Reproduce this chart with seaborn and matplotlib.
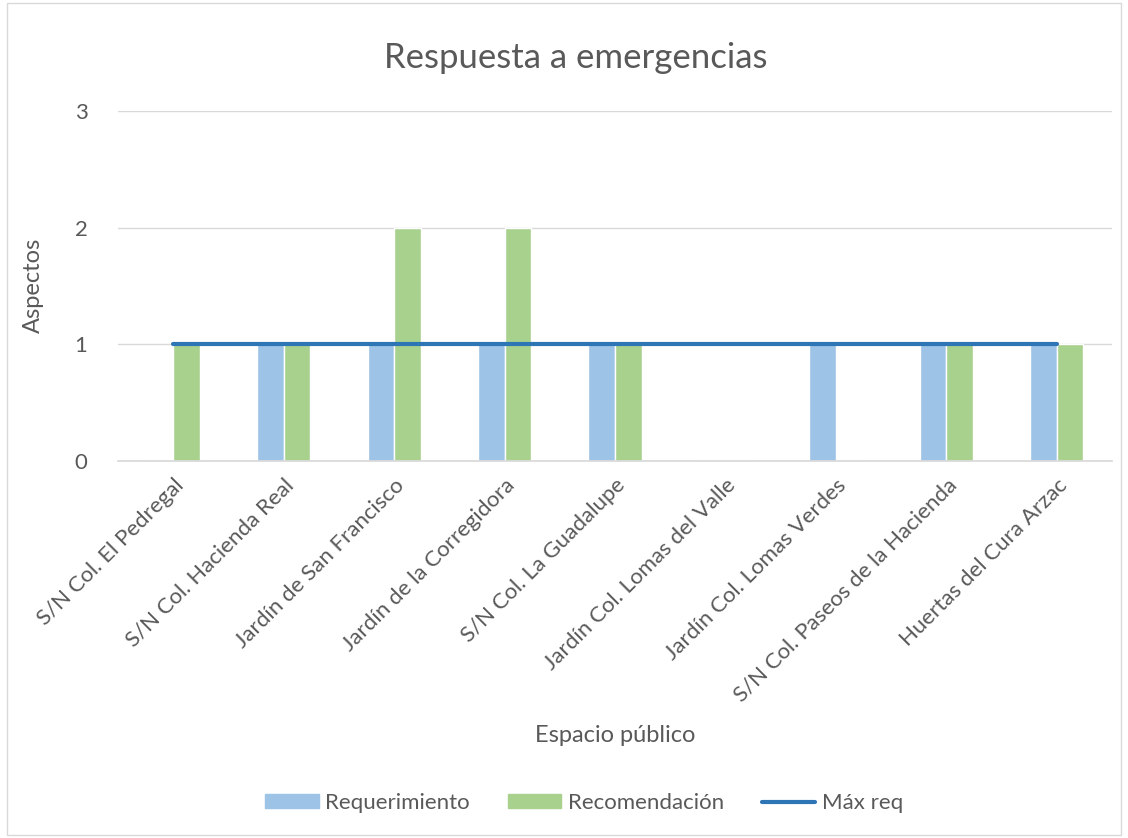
import matplotlib
matplotlib.use("Agg")
import matplotlib.pyplot as plt
import seaborn as sns
import pandas as pd
from matplotlib.patches import Patch
from matplotlib.lines import Line2D

categories = ["S/N Col. El Pedregal", "S/N Col. Hacienda Real", "Jardín de San Francisco",
              "Jardín de la Corregidora", "S/N Col. La Guadalupe", "Jardín Col. Lomas del Valle",
              "Jardín Col. Lomas Verdes", "S/N Col. Paseos de la Hacienda", "Huertas del Cura Arzac"]
requerimiento = [0, 1, 1, 1, 1, 0, 1, 1, 1]
recomendacion = [1, 1, 2, 2, 1, 0, 0, 1, 1]
max_req = [1, 1, 1, 1, 1, 1, 1, 1, 1]
yticks = [0, 1, 2, 3]

sns.set_theme(style="white")
plt.rcParams['font.family'] = ['Lato', 'DejaVu Sans']

df = pd.DataFrame({
    "cat": categories * 2,
    "val": requerimiento + recomendacion,
    "serie": ["Requerimiento"] * 9 + ["Recomendación"] * 9,
})

fig = plt.figure(figsize=(11.28, 8.38), dpi=100)
ax = fig.add_axes([118/1128, 1-461/838, (1112-118)/1128, (461-111)/838])
pal = {"Requerimiento": "#9DC3E6", "Recomendación": "#A9D18E"}
sns.barplot(data=df, x="cat", y="val", hue="serie", palette=pal, width=0.48,
            ax=ax, legend=False, saturation=1)
ax.plot(range(len(categories)), max_req, color="#2E75B6", lw=3, zorder=5)

ax.set_ylim(0, 3)
ax.set_xlim(-0.5, len(categories)-0.5)
ax.set_yticks(yticks)
ax.yaxis.grid(True, color="#D9D9D9", lw=1)
ax.set_axisbelow(True)
for s in ["top", "right", "left"]:
    ax.spines[s].set_visible(False)
ax.spines["bottom"].set_color("#D9D9D9")
ax.tick_params(axis="both", length=0, labelsize=16, colors="#595959")
ax.tick_params(axis="y", pad=22)
ax.tick_params(axis="x", pad=10)
ax.set_xticks(range(len(categories)))
ax.set_xticklabels(categories, rotation=45, ha="right", rotation_mode="anchor")
ax.set_xlabel("Espacio público", fontsize=17, color="#595959", va="center")
ax.xaxis.set_label_coords(0.5, (461-735)/350)
ax.set_ylabel("Aspectos", fontsize=17, color="#595959", va="center")
ax.yaxis.set_label_coords((33-118)/994, (461-285)/350)
fig.text(576/1128, 1-58/838, "Respuesta a emergencias", ha="center", va="center",
         fontsize=25, color="#595959")

handles = [Patch(color="#9DC3E6"), Patch(color="#A9D18E"),
           Line2D([0], [0], color="#2E75B6", lw=3)]
fig.legend(handles, ["Requerimiento", "Recomendación", "Máx req"], loc="center",
           bbox_to_anchor=(584/1128, 1-803/838), ncol=3, frameon=False, fontsize=16,
           handlelength=2.4, handleheight=0.6, columnspacing=1.7, handletextpad=0.3,
           labelcolor="#595959")

fig.patches.append(plt.Rectangle((7/1128, 0.003), 1-14/1128, 0.994, transform=fig.transFigure,
                                 fill=False, edgecolor="#D9D9D9", lw=1))
fig.savefig("out.png", dpi=100)
